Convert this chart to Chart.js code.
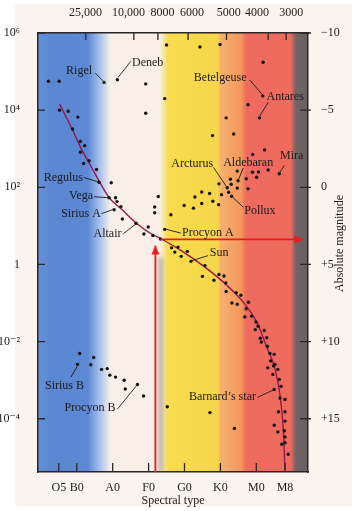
<!DOCTYPE html>
<html>
<head>
<meta charset="utf-8">
<script src="https://cdn.jsdelivr.net/npm/chart.js"></script>
<style>
  html, body { margin: 0; padding: 0; background: #fff; }
  #wrap { width: 352px; height: 511px; }
</style>
</head>
<body>
<div id="wrap"><canvas id="hr" width="352" height="511"></canvas></div>
<script>
// x = spectral subclass counted from O0 (B0 = 10, A0 = 20 ... M0 = 60)
// y = log10 of luminosity in suns, turned into L when the datasets are built

var spectralTicks = [5, 10, 20, 30, 40, 50, 60, 68];
var spectralLabels = ["O5", "B0", "A0", "F0", "G0", "K0", "M0", "M8"];
var tempTicks = [12.4, 24.4, 33.9, 42.1, 52.3, 60.2, 69.7];
var tempLabels = ["25,000", "10,000", "8000", "6000", "5000", "4000", "3000"];
var tempMarks = [12.5, 25.9, 32.6, 41.0, 51.7, 63.3, 68.3];
var lumTicks = [-4, -2, 0, 2, 4, 6];
var lumLabels = ["10\u207B\u2074", "10\u207B\u00B2", "1", "10\u00B2", "10\u2074", "10\u2076"];
var magTicks = [-10, -5, 0, 5, 10, 15];
var magLabels = ["\u221210", "\u22125", "0", "+5", "+10", "+15"];

var supergiantType = [2.1, 5.1, 29.2, 34.5, 35.0, 44.3, 49.9, 61.9, 57.7, 29.2, 51.6];
var supergiantLum  = [4.75, 4.75, 4.68, 4.30, 5.69, 5.64, 5.70, 5.24, 4.14, 3.92, 3.80];

var giantType = [47.8, 53.7, 59.0, 62.3, 54.7, 58.9, 60.6, 60.1, 63.3, 57.2, 52.8, 53.0, 49.6,
                 54.7, 57.7, 52.3, 44.8, 47.0, 50.3, 42.9, 44.8, 47.9, 49.5, 39.9, 42.5, 32.7,
                 31.7, 31.7, 36.2];
var giantLum  = [3.34, 3.38, 2.85, 2.97, 2.42, 2.39, 2.40, 2.26, 2.45, 2.22, 2.21, 2.08, 2.09,
                 1.98, 1.96, 1.87, 1.88, 1.84, 1.81, 1.75, 1.58, 1.64, 1.55, 1.53, 1.46, 1.76,
                 1.49, 1.34, 1.29];

var mainSeqType = [5.2, 7.6, 10.3, 8.8, 11.0, 12.2, 11.0, 13.4, 11.9, 15.5, 19.6, 20.8, 21.2,
                   22.3, 22.7, 29.9, 28.7, 31.2, 33.3, 36.4, 38.2, 37.3, 39.1, 40.8, 45.7, 45.0,
                   48.2, 49.6, 51.0, 51.5, 51.6, 54.4, 55.7, 53.2, 54.7, 57.8, 57.2, 58.7, 56.8,
                   59.9, 60.5, 59.7, 62.2, 61.1, 62.9, 61.4, 63.1, 63.8, 65.0, 64.0, 65.2, 64.8,
                   63.2, 66.0, 64.6, 66.4, 66.9, 66.6, 68.0, 66.2, 68.0, 68.0, 65.0, 67.8, 66.0,
                   68.0, 67.1, 68.0, 68.9];
var mainSeqLum  = [4.00, 3.97, 3.82, 3.51, 3.19, 3.08, 2.91, 2.69, 2.62, 2.46, 2.12, 1.73, 1.63,
                   1.50, 1.18, 0.97, 0.79, 0.75, 0.66, 0.43, 0.45, 0.32, 0.21, 0.34, -0.03, -0.31,
                   -0.41, -0.26, -0.30, -0.48, -0.70, -0.73, -0.80, -1.00, -1.03, -0.98, -1.15, -1.34, -1.36,
                   -1.49, -1.60, -1.69, -1.71, -1.91, -1.90, -2.01, -2.12, -2.31, -2.33, -2.50, -2.59, -2.63,
                   -2.68, -2.72, -2.85, -2.98, -3.16, -3.46, -3.50, -3.82, -3.82, -4.06, -4.17, -4.31, -4.34,
                   -4.47, -4.66, -4.62, -4.92];

var faintType = [35.2, 47.1, 53.9];
var faintLum  = [-3.69, -3.84, -4.25];

var dwarfType = [10.8, 14.7, 13.9, 16.9, 18.5, 19.2, 20.8, 23.2, 23.5, 28.6];
var dwarfLum  = [-2.31, -2.41, -2.60, -2.72, -2.70, -2.87, -2.92, -3.00, -3.23, -3.41];

var namedStars = ["Rigel", "Deneb", "Betelgeuse", "Antares", "Regulus", "Vega", "Sirius A", "Altair",
                  "Procyon A", "Arcturus", "Aldebaran", "Mira", "Pollux", "Sun", "Sirius B",
                  "Procyon B", "Barnard\u2019s star"];
var namedType = [17.6, 21.3, 61.8, 60.9, 16.2, 19.0, 20.4, 26.5, 34.5, 51.9, 54.9, 66.4, 53.1, 41.8, 10.2, 26.9, 65.0];
var namedLum  = [4.72, 4.79, 4.37, 3.80, 2.13, 1.73, 1.42, 1.07, 0.91, 1.99, 2.17, 2.35, 1.77, 0.08, -2.59, -3.11, -3.24];

var curveType = [5.2, 8.6, 11.1, 14.1, 16.4, 19.1, 22.4, 26.6, 30.8, 33.6, 39.1, 45.7, 51.8, 56.4, 60.1, 62.9, 65.2, 66.6, 67.5, 68.0];
var curveLum  = [4.16, 3.53, 3.03, 2.52, 2.13, 1.72, 1.44, 1.07, 0.79, 0.66, 0.36, -0.07, -0.54, -0.98, -1.49, -2.14, -2.70, -3.39, -4.25, -5.33];

var upArrowType = [31.9, 31.9];
var upArrowLum  = [-5.38, 0.49];
var sideArrowType = [33.3, 73.1];
var sideArrowLum  = [0.65, 0.65];

// label placement, pixels from the star: text dx, dy, align, leader line x1, y1, x2, y2
var labelLayout = [
    [-12, -11.5, "right", -1, -1.5, -9, -9.5],
    [14.7, -17.3, "left", 0.7, -2.3, 13.4, -18.3],
    [-16.3, -18.3, "right", -0.8, -1.7, -13.1, -16],
    [7, -20.6, "left", 0.3, -2, 8.7, -15.6],
    [-16, -4.8, "right", -1, -0.5, -15.3, -4.8],
    [-16, -2, "right", -1, 0, -15.3, -1],
    [-13.3, 4, "right", -1.5, 0, -12.7, 4],
    [-14.5, 10.6, "right", -0.5, 1, -12.8, 10.6],
    [17.3, 3.7, "left", 1.6, 0, 16, 3.7],
    [-14, -23.7, "right", -1, -1.5, -13.7, -20.3],
    [-14.8, -18.3, "left", 0.7, -1.5, 5.2, -12.7],
    [0.7, -18.3, "left", 0.5, -1.3, 5, -8.3],
    [12.7, 15, "left", 1, 1, 11.7, 11],
    [18.9, -8.5, "left", 1.2, -0.8, 17.2, -5.8],
    [-13, 21, "center", -0.3, 2, -6.6, 12.7],
    [-22, 23, "right", -1, 1.2, -20, 24.7],
    [-18.3, 7.4, "right", -1.3, 0.7, -17, 8]
];

var bandStops = [
    [-0.8, "#6690d8"], [3, "#5a86d2"], [13, "#5c88d4"], [16.5, "#a9c2ec"], [19.3, "#f8eee8"],
    [33.2, "#faefe6"], [35.4, "#f8dc4e"], [49.3, "#f6d64a"], [50.1, "#f6b070"], [55.8, "#f4975c"],
    [57.2, "#ef6a5f"], [69.6, "#ee6b5e"], [71.0, "#6e6565"], [74.4, "#686060"]
];

var font = { family: "'Liberation Serif', 'DejaVu Serif', serif", size: 12 };
var ink = "#1c1a1a";
var fontCss = "12px 'Liberation Serif', 'DejaVu Serif', serif";

var toPoints = (xs, ys) => xs.map((x, i) => ({ x: x, y: Math.pow(10, ys[i]) }));

var dots = (label, xs, ys) => ({
    label: label,
    data: toPoints(xs, ys),
    pointRadius: 1.7,
    pointBackgroundColor: "#141212",
    pointBorderWidth: 0,
    showLine: false,
    order: 1
});

var arrow = (label, xs, ys) => ({
    label: label,
    data: toPoints(xs, ys),
    showLine: true,
    borderColor: "#ec1c1c",
    borderWidth: 1.8,
    pointRadius: 0,
    arrow: true,
    order: 0
});

var bandsPlugin = {
    id: "bands",
    beforeDraw: chart => {
        var ctx = chart.ctx, a = chart.chartArea, xs = chart.scales.x;
        ctx.save();
        ctx.fillStyle = "#ffffff";
        ctx.fillRect(0, 0, chart.width, chart.height);
        ctx.fillStyle = "#fbf3ee";
        ctx.fillRect(15, 4, chart.width - 15, 502);
        var g = ctx.createLinearGradient(a.left, 0, a.right, 0);
        bandStops.forEach(st => {
            var f = (xs.getPixelForValue(st[0]) - a.left) / (a.right - a.left);
            g.addColorStop(Math.min(1, Math.max(0, f)), st[1]);
        });
        ctx.fillStyle = g;
        ctx.fillRect(a.left, a.top, a.right - a.left, a.bottom - a.top);
        ctx.restore();
    },
    beforeDatasetsDraw: chart => {
        // soft grey shadow beside the vertical arrow
        var ctx = chart.ctx, a = chart.chartArea;
        chart.data.datasets.forEach((ds, i) => {
            if (!ds.arrow) return;
            var pts = chart.getDatasetMeta(i).data;
            if (Math.abs(pts[0].x - pts[1].x) > 1) return;
            ctx.save();
            ctx.beginPath();
            ctx.rect(a.left, a.top, a.right - a.left, a.bottom - a.top);
            ctx.clip();
            ctx.filter = "blur(2px)";
            ctx.strokeStyle = "rgba(110,105,105,0.55)";
            ctx.lineWidth = 4;
            ctx.beginPath();
            ctx.moveTo(pts[0].x + 5, pts[0].y);
            ctx.lineTo(pts[1].x + 5, pts[1].y + 12);
            ctx.stroke();
            ctx.restore();
        });
    },
    afterDatasetsDraw: chart => {
        var ctx = chart.ctx, a = chart.chartArea, sc = chart.scales;
        ctx.save();
        // tick marks pointing into the plot
        ctx.strokeStyle = "#2b2727";
        ctx.lineWidth = 1.3;
        ctx.beginPath();
        spectralTicks.forEach(v => { var px = sc.x.getPixelForValue(v); ctx.moveTo(px, a.bottom); ctx.lineTo(px, a.bottom - 9); });
        tempMarks.forEach(v => { var px = sc.x.getPixelForValue(v); ctx.moveTo(px, a.top); ctx.lineTo(px, a.top + 7); });
        lumTicks.forEach(v => { var py = sc.y.getPixelForValue(Math.pow(10, v)); ctx.moveTo(a.left, py); ctx.lineTo(a.left + 7, py); });
        magTicks.forEach(v => { var py = sc.yMag.getPixelForValue(v); ctx.moveTo(a.right - 8, py); ctx.lineTo(a.right + 3, py); });
        ctx.stroke();

        // arrow heads
        chart.data.datasets.forEach((ds, i) => {
            if (!ds.arrow) return;
            var pts = chart.getDatasetMeta(i).data;
            var p0 = pts[pts.length - 2], p1 = pts[pts.length - 1];
            var ang = Math.atan2(p1.y - p0.y, p1.x - p0.x);
            ctx.save();
            ctx.translate(p1.x, p1.y);
            ctx.rotate(ang);
            ctx.fillStyle = ds.borderColor;
            ctx.beginPath();
            ctx.moveTo(0, 0);
            ctx.lineTo(-9, -4);
            ctx.lineTo(-9, 4);
            ctx.closePath();
            ctx.fill();
            ctx.restore();
        });

        // star names with leader lines
        ctx.font = fontCss;
        ctx.fillStyle = ink;
        ctx.strokeStyle = ink;
        ctx.lineWidth = 0.9;
        ctx.textBaseline = "middle";
        namedStars.forEach((name, i) => {
            var sx = sc.x.getPixelForValue(namedType[i]);
            var sy = sc.y.getPixelForValue(Math.pow(10, namedLum[i]));
            var L = labelLayout[i];
            ctx.textAlign = L[2];
            ctx.fillText(name, sx + L[0], sy + L[1]);
            ctx.beginPath();
            ctx.moveTo(sx + L[3], sy + L[4]);
            ctx.lineTo(sx + L[5], sy + L[6]);
            ctx.stroke();
        });

        // right-hand axis title, read from bottom to top
        ctx.translate(340, (a.top + a.bottom) / 2 - 9);
        ctx.rotate(-Math.PI / 2);
        ctx.textAlign = "center";
        ctx.fillText("Absolute magnitude", 0, 0);
        ctx.restore();
    }
};

var xRange = { min: -0.8, max: 74.4 };
var border = { display: true, color: "#2b2727", width: 1.5 };

new Chart(document.getElementById("hr").getContext("2d"), {
    type: "scatter",
    data: {
        datasets: [
            arrow("up arrow", upArrowType, upArrowLum),
            arrow("side arrow", sideArrowType, sideArrowLum),
            dots("supergiants", supergiantType, supergiantLum),
            dots("giants", giantType, giantLum),
            dots("main sequence", mainSeqType, mainSeqLum),
            dots("faint", faintType, faintLum),
            dots("white dwarfs", dwarfType, dwarfLum),
            dots("named", namedType, namedLum),
            {
                label: "main sequence line",
                data: toPoints(curveType, curveLum),
                showLine: true,
                borderColor: "#951a48",
                borderWidth: 1.4,
                pointRadius: 0,
                cubicInterpolationMode: "monotone",
                order: 2
            }
        ]
    },
    options: {
        responsive: false,
        animation: false,
        devicePixelRatio: 1,
        layout: { padding: 0 },
        plugins: { legend: { display: false }, tooltip: { enabled: false } },
        scales: {
            x: {
                type: "linear", position: "bottom", min: xRange.min, max: xRange.max,
                afterBuildTicks: s => { s.ticks = spectralTicks.map(v => ({ value: v })); },
                afterFit: s => { s.height = 39; },
                ticks: { callback: (v, i) => spectralLabels[i], font: font, color: ink, padding: 1, maxRotation: 0, autoSkip: false },
                grid: { display: false },
                border: border,
                title: { display: true, text: "Spectral type", font: font, color: ink, padding: { top: 0, bottom: 3 } }
            },
            xTop: {
                type: "linear", position: "top", min: xRange.min, max: xRange.max,
                afterBuildTicks: s => { s.ticks = tempTicks.map(v => ({ value: v })); },
                afterFit: s => { s.height = 33; },
                ticks: { callback: (v, i) => tempLabels[i], font: font, color: ink, padding: 5, maxRotation: 0, autoSkip: false },
                grid: { display: false },
                border: border
            },
            y: {
                type: "logarithmic", position: "left", min: Math.pow(10, -5.38), max: 1e6,
                afterBuildTicks: s => { s.ticks = lumTicks.map(v => ({ value: Math.pow(10, v) })); },
                afterFit: s => { s.width = 38; },
                ticks: { callback: (v, i) => lumLabels[i], font: font, color: ink, padding: 10, autoSkip: false },
                grid: { display: false },
                border: border
            },
            yMag: {
                type: "linear", position: "right", min: -10, max: 18.45, reverse: true,
                afterBuildTicks: s => { s.ticks = magTicks.map(v => ({ value: v })); },
                afterFit: s => { s.width = 44; },
                ticks: { callback: (v, i) => magLabels[i], font: font, color: ink, padding: 5, autoSkip: false },
                grid: { display: false },
                border: border
            }
        }
    },
    plugins: [bandsPlugin]
});
</script>
</body>
</html>
